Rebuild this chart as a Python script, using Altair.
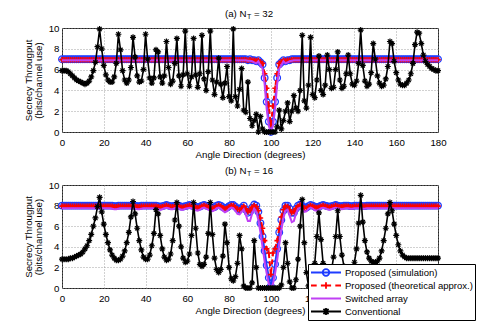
import altair as alt
import pandas as pd

# ---------------- data (1-degree steps) ----------------
angles = list(range(0, 181))

# Panel (a) N_T = 32
sim32 = [
    7.0, 7.0, 7.0, 7.0, 7.0, 7.0, 7.0, 7.0, 7.0, 7.0,
    7.0, 7.0, 7.0, 7.0, 7.0, 7.0, 7.0, 7.0, 7.0, 7.0,
    7.0, 7.0, 7.0, 7.0, 7.0, 7.0, 7.0, 7.0, 7.0, 7.0,
    7.0, 7.0, 7.0, 7.0, 7.0, 7.0, 7.0, 7.0, 7.0, 7.0,
    7.0, 7.0, 7.0, 7.0, 7.0, 7.0, 7.0, 7.0, 7.0, 7.0,
    7.0, 7.0, 7.0, 7.0, 7.0, 7.0, 7.0, 7.0, 7.0, 7.0,
    7.0, 7.0, 7.0, 7.0, 7.0, 7.0, 7.0, 7.0, 7.0, 7.0,
    7.0, 7.0, 7.0, 7.0, 7.0, 7.0, 7.0, 7.0, 7.0, 7.0,
    7.0, 7.0, 7.0, 7.0, 7.0, 7.0, 7.0, 7.0, 7.0, 6.9,
    7.0, 6.9, 6.9, 6.8, 6.9, 6.7, 6.5, 5.2, 2.9, 1.0,
    0.0, 1.0, 2.9, 5.2, 6.5, 6.7, 6.9, 6.8, 6.9, 6.9,
    7.0, 7.0, 7.0, 7.0, 7.0, 7.0, 7.0, 7.0, 7.0, 7.0,
    7.0, 7.0, 7.0, 7.0, 7.0, 7.0, 7.0, 7.0, 7.0, 7.0,
    7.0, 7.0, 7.0, 7.0, 7.0, 7.0, 7.0, 7.0, 7.0, 7.0,
    7.0, 7.0, 7.0, 7.0, 7.0, 7.0, 7.0, 7.0, 7.0, 7.0,
    7.0, 7.0, 7.0, 7.0, 7.0, 7.0, 7.0, 7.0, 7.0, 7.0,
    7.0, 7.0, 7.0, 7.0, 7.0, 7.0, 7.0, 7.0, 7.0, 7.0,
    7.0, 7.0, 7.0, 7.0, 7.0, 7.0, 7.0, 7.0, 7.0, 7.0,
    7.0,
]
theo32 = [
    6.95, 6.95, 6.95, 6.95, 6.95, 6.95, 6.95, 6.95, 6.95, 6.95,
    6.95, 6.95, 6.95, 6.95, 6.95, 6.95, 6.95, 6.95, 6.95, 6.95,
    6.95, 6.95, 6.95, 6.95, 6.95, 6.95, 6.95, 6.95, 6.95, 6.95,
    6.95, 6.95, 6.95, 6.95, 6.95, 6.95, 6.95, 6.95, 6.95, 6.95,
    6.95, 6.95, 6.95, 6.95, 6.95, 6.95, 6.95, 6.95, 6.95, 6.95,
    6.95, 6.95, 6.95, 6.95, 6.95, 6.95, 6.95, 6.95, 6.95, 6.95,
    6.95, 6.95, 6.95, 6.95, 6.95, 6.95, 6.95, 6.95, 6.95, 6.95,
    6.95, 6.95, 6.95, 6.95, 6.95, 6.95, 6.95, 6.95, 6.95, 6.95,
    6.95, 6.95, 6.95, 6.95, 6.95, 6.95, 6.95, 6.95, 6.95, 6.9,
    6.95, 6.9, 6.9, 6.85, 6.9, 6.75, 6.6, 5.6, 4.2, 2.5,
    0.7, 2.5, 4.2, 5.6, 6.6, 6.75, 6.9, 6.85, 6.9, 6.9,
    6.95, 6.95, 6.95, 6.95, 6.95, 6.95, 6.95, 6.95, 6.95, 6.95,
    6.95, 6.95, 6.95, 6.95, 6.95, 6.95, 6.95, 6.95, 6.95, 6.95,
    6.95, 6.95, 6.95, 6.95, 6.95, 6.95, 6.95, 6.95, 6.95, 6.95,
    6.95, 6.95, 6.95, 6.95, 6.95, 6.95, 6.95, 6.95, 6.95, 6.95,
    6.95, 6.95, 6.95, 6.95, 6.95, 6.95, 6.95, 6.95, 6.95, 6.95,
    6.95, 6.95, 6.95, 6.95, 6.95, 6.95, 6.95, 6.95, 6.95, 6.95,
    6.95, 6.95, 6.95, 6.95, 6.95, 6.95, 6.95, 6.95, 6.95, 6.95,
    6.95,
]
sw32 = [
    6.9, 6.9, 6.9, 6.9, 6.9, 6.9, 6.9, 6.9, 6.9, 6.9,
    6.9, 6.9, 6.9, 6.9, 6.9, 6.9, 6.9, 6.9, 6.9, 6.9,
    6.9, 6.9, 6.9, 6.9, 6.9, 6.9, 6.9, 6.9, 6.9, 6.9,
    6.9, 6.9, 6.9, 6.9, 6.9, 6.9, 6.9, 6.9, 6.9, 6.9,
    6.9, 6.9, 6.9, 6.9, 6.9, 6.9, 6.9, 6.9, 6.9, 6.9,
    6.9, 6.9, 6.9, 6.9, 6.9, 6.9, 6.9, 6.9, 6.9, 6.9,
    6.9, 6.9, 6.9, 6.9, 6.9, 6.9, 6.9, 6.9, 6.9, 6.9,
    6.9, 6.9, 6.9, 6.9, 6.9, 6.9, 6.9, 6.9, 6.9, 6.9,
    6.9, 6.9, 6.9, 6.9, 6.9, 6.9, 6.9, 6.9, 6.9, 6.85,
    6.85, 6.8, 6.7, 6.6, 6.8, 6.4, 6.1, 4.6, 2.2, 0.6,
    0.0, 0.6, 2.2, 4.6, 6.1, 6.4, 6.8, 6.6, 6.7, 6.8,
    6.85, 6.9, 6.9, 6.9, 6.9, 6.9, 6.9, 6.9, 6.9, 6.9,
    6.9, 6.9, 6.9, 6.9, 6.9, 6.9, 6.9, 6.9, 6.9, 6.9,
    6.9, 6.9, 6.9, 6.9, 6.9, 6.9, 6.9, 6.9, 6.9, 6.9,
    6.9, 6.9, 6.9, 6.9, 6.9, 6.9, 6.9, 6.9, 6.9, 6.9,
    6.9, 6.9, 6.9, 6.9, 6.9, 6.9, 6.9, 6.9, 6.9, 6.9,
    6.9, 6.9, 6.9, 6.9, 6.9, 6.9, 6.9, 6.9, 6.9, 6.9,
    6.9, 6.9, 6.9, 6.9, 6.9, 6.9, 6.9, 6.9, 6.9, 6.9,
    6.9,
]
conv32 = [
    5.9, 5.9, 5.9, 5.8, 5.6, 5.4, 5.2, 5.0, 4.9, 4.8,
    4.7, 4.6, 4.7, 4.9, 5.3, 5.9, 6.7, 8.2, 9.9, 8.0,
    6.4, 5.5, 5.0, 4.8, 4.8, 5.3, 6.6, 9.4, 7.9, 5.9,
    5.0, 4.7, 5.0, 6.2, 9.1, 7.2, 5.4, 4.8, 4.9, 6.0,
    9.4, 7.0, 5.2, 4.7, 5.2, 7.9, 7.7, 5.3, 4.7, 5.4,
    8.7, 6.2, 4.6, 4.9, 6.6, 9.0, 5.4, 4.4, 5.5, 9.7,
    5.6, 4.4, 5.3, 9.0, 5.5, 4.3, 5.6, 9.3, 5.1, 4.0,
    5.8, 9.7, 5.0, 3.6, 4.8, 7.1, 4.6, 3.3, 4.7, 6.3,
    3.4, 3.0, 9.9, 3.4, 2.5, 4.1, 6.1, 2.1, 1.9, 4.8,
    1.3, 0.6, 1.1, 1.7, 0.0, 1.5, 0.3, 0.0, 0.0, 0.0,
    0.0, 0.0, 0.0, 0.5, 2.1, 0.3, 1.1, 2.0, 2.8, 1.0,
    2.0, 3.5, 2.3, 2.0, 4.0, 9.3, 3.0, 2.3, 4.5, 9.1,
    3.6, 3.3, 5.0, 7.3, 4.0, 3.6, 4.5, 7.4, 6.0, 4.2,
    4.3, 6.0, 7.7, 5.0, 4.2, 4.4, 5.6, 7.4, 5.6, 4.6,
    4.5, 4.9, 6.6, 9.8, 6.4, 4.9, 4.4, 4.6, 5.7, 8.5,
    7.0, 5.4, 4.7, 4.4, 4.5, 5.1, 6.3, 8.7, 8.5, 6.8,
    5.7, 5.0, 4.6, 4.5, 4.5, 4.7, 5.0, 5.6, 6.6, 8.4,
    9.6, 9.5, 8.5, 7.4, 6.8, 6.5, 6.3, 6.1, 6.0, 5.9,
    5.9,
]

# Panel (b) N_T = 16
sim16 = [
    8.0, 8.0, 8.0, 8.0, 8.0, 8.0, 8.0, 8.0, 8.0, 8.0,
    8.0, 8.0, 8.0, 8.0, 8.0, 8.0, 8.0, 8.0, 8.0, 8.0,
    8.0, 8.0, 8.0, 8.0, 8.0, 7.95, 7.95, 8.0, 8.0, 8.0,
    8.0, 8.0, 8.0, 8.0, 8.0, 8.0, 7.95, 7.95, 8.0, 8.0,
    8.0, 8.0, 8.0, 8.0, 8.0, 8.0, 7.95, 7.9, 7.95, 8.0,
    8.05, 8.0, 7.95, 7.95, 8.0, 8.05, 8.0, 7.9, 7.9, 7.95,
    8.0, 8.05, 8.0, 7.95, 7.9, 7.85, 7.9, 8.0, 8.05, 8.0,
    7.95, 7.85, 7.8, 7.85, 8.0, 8.05, 8.0, 7.85, 7.75, 7.8,
    7.95, 8.05, 8.05, 7.9, 7.7, 7.65, 7.8, 8.0, 7.6, 7.3,
    7.4, 7.8, 8.1, 8.0, 7.4, 6.3, 5.0, 3.6, 2.2, 1.0,
    0.2, 1.0, 2.3, 3.8, 5.4, 6.6, 7.5, 8.0, 8.0, 7.7,
    7.3, 7.3, 7.7, 8.0, 8.1, 8.0, 7.8, 7.8, 7.95, 8.05,
    8.0, 7.9, 7.85, 7.9, 8.0, 8.05, 8.0, 7.95, 7.9, 7.95,
    8.0, 8.05, 8.0, 7.95, 7.95, 8.0, 8.0, 8.0, 7.95, 7.95,
    8.0, 8.0, 8.0, 8.0, 7.95, 7.95, 8.0, 8.0, 8.0, 8.0,
    8.0, 8.0, 8.0, 8.0, 8.0, 8.0, 8.0, 8.0, 8.0, 8.0,
    8.0, 8.0, 8.0, 8.0, 8.0, 8.0, 8.0, 8.0, 8.0, 8.0,
    8.0, 8.0, 8.0, 8.0, 8.0, 8.0, 8.0, 8.0, 8.0, 8.0,
    8.0,
]
theo16 = [
    7.95, 7.95, 7.95, 7.95, 7.95, 7.95, 7.95, 7.95, 7.95, 7.95,
    7.95, 7.95, 7.95, 7.95, 7.95, 7.95, 7.95, 7.95, 7.95, 7.95,
    7.95, 7.95, 7.95, 7.95, 7.95, 7.9, 7.9, 7.95, 7.95, 7.95,
    7.95, 7.95, 7.95, 7.95, 7.95, 7.95, 7.9, 7.9, 7.95, 7.95,
    7.95, 7.95, 7.95, 7.95, 7.95, 7.95, 7.9, 7.85, 7.9, 7.95,
    8.0, 7.95, 7.9, 7.9, 7.95, 8.0, 7.95, 7.85, 7.85, 7.9,
    7.95, 8.0, 7.95, 7.9, 7.85, 7.8, 7.85, 7.95, 8.0, 7.95,
    7.9, 7.8, 7.75, 7.8, 7.95, 8.0, 7.95, 7.8, 7.7, 7.75,
    7.9, 8.0, 8.0, 7.85, 7.65, 7.6, 7.75, 7.95, 7.7, 7.4,
    7.5, 7.85, 8.0, 7.9, 7.5, 6.8, 5.8, 4.6, 3.8, 3.4,
    1.3, 3.4, 3.8, 4.6, 5.8, 6.9, 7.6, 7.95, 7.9, 7.6,
    7.3, 7.4, 7.75, 7.95, 8.05, 7.95, 7.75, 7.75, 7.9, 8.0,
    7.95, 7.85, 7.8, 7.85, 7.95, 8.0, 7.95, 7.9, 7.85, 7.9,
    7.95, 8.0, 7.95, 7.9, 7.9, 7.95, 7.95, 7.95, 7.9, 7.9,
    7.95, 7.95, 7.95, 7.95, 7.95, 7.95, 7.95, 7.95, 7.95, 7.95,
    7.95, 7.95, 7.95, 7.95, 7.95, 7.95, 7.95, 7.95, 7.95, 7.95,
    7.95, 7.95, 7.95, 7.95, 7.95, 7.95, 7.95, 7.95, 7.95, 7.95,
    7.95, 7.95, 7.95, 7.95, 7.95, 7.95, 7.95, 7.95, 7.95, 7.95,
    7.95,
]
sw16 = [
    7.75, 7.75, 7.75, 7.75, 7.75, 7.75, 7.75, 7.75, 7.75, 7.75,
    7.75, 7.75, 7.75, 7.75, 7.75, 7.75, 7.75, 7.75, 7.75, 7.75,
    7.75, 7.75, 7.75, 7.75, 7.7, 7.65, 7.65, 7.7, 7.75, 7.75,
    7.75, 7.75, 7.75, 7.75, 7.75, 7.7, 7.65, 7.65, 7.7, 7.75,
    7.75, 7.75, 7.75, 7.75, 7.75, 7.7, 7.65, 7.6, 7.65, 7.75,
    7.8, 7.75, 7.65, 7.65, 7.75, 7.8, 7.7, 7.6, 7.6, 7.7,
    7.75, 7.8, 7.75, 7.65, 7.55, 7.5, 7.6, 7.75, 7.8, 7.7,
    7.6, 7.5, 7.45, 7.55, 7.75, 7.8, 7.7, 7.5, 7.35, 7.45,
    7.7, 7.8, 7.75, 7.5, 7.2, 7.15, 7.4, 7.65, 7.1, 6.5,
    6.5, 7.2, 7.7, 7.4, 6.6, 5.4, 4.0, 2.6, 1.4, 0.4,
    0.0, 0.4, 1.4, 2.7, 4.2, 5.6, 6.8, 7.5, 7.6, 7.0,
    6.4, 6.5, 7.2, 7.7, 7.8, 7.6, 7.4, 7.45, 7.7, 7.8,
    7.7, 7.55, 7.5, 7.6, 7.75, 7.8, 7.75, 7.65, 7.6, 7.65,
    7.75, 7.8, 7.75, 7.7, 7.65, 7.7, 7.75, 7.75, 7.7, 7.7,
    7.75, 7.75, 7.75, 7.75, 7.7, 7.7, 7.75, 7.75, 7.75, 7.75,
    7.75, 7.75, 7.75, 7.75, 7.75, 7.75, 7.75, 7.75, 7.75, 7.75,
    7.75, 7.75, 7.75, 7.75, 7.75, 7.75, 7.75, 7.75, 7.75, 7.75,
    7.75, 7.75, 7.75, 7.75, 7.75, 7.75, 7.75, 7.75, 7.75, 7.75,
    7.75,
]
conv16 = [
    2.8, 2.8, 2.8, 2.8, 2.9, 2.9, 3.0, 3.1, 3.2, 3.3,
    3.5, 3.8, 4.1, 4.6, 5.2, 6.0, 6.8, 7.9, 8.8, 7.4,
    6.2, 5.2, 4.4, 3.7, 3.2, 2.9, 2.7, 2.7, 2.8, 3.1,
    3.6, 4.4, 5.4, 6.9, 8.4, 7.2, 5.8, 4.6, 3.7, 3.0,
    2.8, 2.8, 3.2, 4.1, 5.3, 7.6, 7.2, 5.1, 3.8, 3.0,
    2.7, 2.8, 3.3, 4.6, 6.6, 8.3, 6.0, 4.0, 2.9, 2.5,
    2.6, 3.3, 5.1, 8.3, 5.8, 3.4, 2.3, 2.1, 2.3, 3.0,
    5.3, 8.3, 5.2, 2.9, 1.8, 1.5, 1.8, 3.1, 6.2, 4.4,
    2.0, 0.9, 0.7, 1.1, 2.4, 5.1, 3.8, 0.2, 0.0, 0.0,
    0.0, 0.5, 4.6, 2.0, 0.0, 0.0, 0.0, 0.0, 0.0, 0.0,
    0.0, 0.0, 0.0, 0.0, 0.0, 0.3, 2.0, 4.4, 2.4, 0.6,
    0.0, 0.0, 0.8, 2.8, 6.0, 8.6, 4.4, 1.5, 0.2, 0.0,
    0.6, 2.4, 5.0, 7.3, 4.7, 2.4, 1.2, 0.9, 1.0, 1.7,
    3.0, 5.0, 7.5, 5.0, 3.2, 2.1, 1.7, 1.6, 1.7, 1.9,
    2.5, 3.8, 6.3, 9.0, 6.4, 4.6, 3.5, 2.9, 2.6, 2.5,
    2.5, 2.6, 2.9, 3.6, 4.6, 5.8, 7.2, 8.3, 7.5, 6.2,
    5.1, 4.2, 3.6, 3.2, 3.0, 2.9, 2.9, 2.9, 2.9, 2.9,
    2.9, 2.9, 2.9, 2.9, 2.9, 2.9, 2.9, 2.9, 2.9, 2.9,
    2.9,
]

series_names = [
    "Proposed (simulation)",
    "Proposed (theoretical approx.)",
    "Switched array",
    "Conventional",
]
x_ticks = [0, 20, 40, 60, 80, 100, 120, 140, 160, 180]
y_ticks = [0, 2, 4, 6, 8, 10]
title_a = ["(a) N", "T", "= 32"]
title_b = ["(b) N", "T", "= 16"]
x_title = "Angle Direction (degrees)"
y_title = ["Secrecy Througput", "(bits/channel use)"]

# ---------------- styles ----------------
FONT = "Liberation Sans"
FS = 9.7
BLUE = "#1f3cff"
RED = "#ff0000"
PURPLE = "#c040f4"
BLACK = "#000000"
colors = [BLUE, RED, PURPLE, BLACK]
PLUS = "M-1,0H1M0,-1V1"
STAR = "M-1,0H1M0,-1V1M-0.7,-0.7L0.7,0.7M-0.7,0.7L0.7,-0.7"
legend_paths = [
    "M-1,0H1M-0.22,0A0.22,0.22 0 1,0 0.22,0A0.22,0.22 0 1,0 -0.22,0",
    "M-1,0H-0.62M-0.34,0H0.34M0.62,0H1M0,-0.22V0.22",
    "M-1,0H1",
    "M-1,0H1M0,-0.24V0.24M-0.17,-0.17L0.17,0.17M-0.17,0.17L0.17,-0.17",
]

W = 376


def make_panel(sim, theo, sw, conv, title_parts, height, with_legend):
    values = sim + theo + sw + conv
    series = [n for n in series_names for _ in angles]
    df = pd.DataFrame({"angle": angles * 4, "value": values, "series": series})

    x = alt.X(
        "angle:Q",
        scale=alt.Scale(domain=[0, 180], nice=False, zero=False),
        axis=alt.Axis(
            values=x_ticks, title=x_title, labelFlush=False, labelPadding=5,
            titlePadding=3, ticks=False, domain=False, grid=True,
            gridDash=[1, 2], gridColor="#8c8c8c", gridWidth=0.8,
        ),
    )
    y = alt.Y(
        "value:Q",
        scale=alt.Scale(domain=[0, 10], nice=False),
        axis=alt.Axis(
            values=y_ticks, title=y_title, labelPadding=3, titlePadding=5,
            ticks=False, domain=False, grid=True, gridDash=[1, 2],
            gridColor="#8c8c8c", gridWidth=0.8, titleLineHeight=10,
        ),
    )
    base = alt.Chart(df)

    def sel(i):
        return base.transform_filter(alt.datum.series == series_names[i])

    layers = [
        sel(0).mark_line(color=BLUE, strokeWidth=2).encode(x=x, y=y),
        sel(0).mark_point(shape="circle", size=44, filled=False, color=BLUE,
                          strokeWidth=1.3, opacity=1).encode(x=x, y=y),
        sel(1).mark_line(color=RED, strokeWidth=2, strokeDash=[5, 3]).encode(x=x, y=y),
        sel(1).mark_point(shape=PLUS, size=30, filled=False, color=RED,
                          strokeWidth=1.6, opacity=1).encode(x=x, y=y),
        sel(2).mark_line(color=PURPLE, strokeWidth=2).encode(x=x, y=y),
        sel(3).mark_line(color=BLACK, strokeWidth=1.6).encode(x=x, y=y),
        sel(3).mark_point(shape=STAR, size=36, filled=False, color=BLACK,
                          strokeWidth=1.2, opacity=1).encode(x=x, y=y),
    ]

    tdf = pd.DataFrame({"t": title_parts})
    tb = alt.Chart(tdf)
    layers += [
        tb.transform_filter(alt.datum.t == title_parts[0]).mark_text(
            align="right", baseline="alphabetic", font=FONT, fontSize=FS, color=BLACK
        ).encode(text="t:N", x=alt.value(184.5), y=alt.value(-11.5)),
        tb.transform_filter(alt.datum.t == title_parts[1]).mark_text(
            align="left", baseline="alphabetic", font=FONT, fontSize=7, color=BLACK
        ).encode(text="t:N", x=alt.value(185), y=alt.value(-9)),
        tb.transform_filter(alt.datum.t == title_parts[2]).mark_text(
            align="left", baseline="alphabetic", font=FONT, fontSize=FS, color=BLACK
        ).encode(text="t:N", x=alt.value(192), y=alt.value(-11.5)),
    ]

    if with_legend:
        leg = dict(
            orient="none", legendX=246, legendY=79, title=None,
            fillColor="white", strokeColor="black", padding=2,
            symbolSize=900, symbolStrokeWidth=1.8, labelFont=FONT,
            labelFontSize=9.5, labelColor=BLACK, labelOffset=3, rowPadding=0,
            clipHeight=13, labelLimit=0,
        )
        layers.append(
            base.transform_filter("datum.angle < 0")
            .mark_point(filled=False, opacity=1)
            .encode(
                x=x, y=y,
                color=alt.Color("series:N", scale=alt.Scale(domain=series_names, range=colors),
                                legend=alt.Legend(**leg)),
                shape=alt.Shape("series:N", scale=alt.Scale(domain=series_names, range=legend_paths),
                                legend=alt.Legend(**leg)),
            )
        )

    return alt.layer(*layers).properties(width=W, height=height)


panel_a = make_panel(sim32, theo32, sw32, conv32, title_a, 104, False)
panel_b = make_panel(sim16, theo16, sw16, conv16, title_b, 103, True)

chart = (
    alt.vconcat(panel_a, panel_b, spacing=5)
    .resolve_scale(color="independent", shape="independent")
    .resolve_legend(color="independent", shape="independent")
    .properties(padding={"left": 14, "top": 0, "right": 0, "bottom": 0}, background="white")
    .configure_view(stroke="#262626", strokeWidth=1)
    .configure_axis(
        labelFont=FONT, titleFont=FONT, labelFontSize=FS, titleFontSize=FS,
        titleFontWeight="normal", labelColor=BLACK, titleColor=BLACK,
    )
)

chart.save("out.html", embed_options={"renderer": "svg", "actions": False})
